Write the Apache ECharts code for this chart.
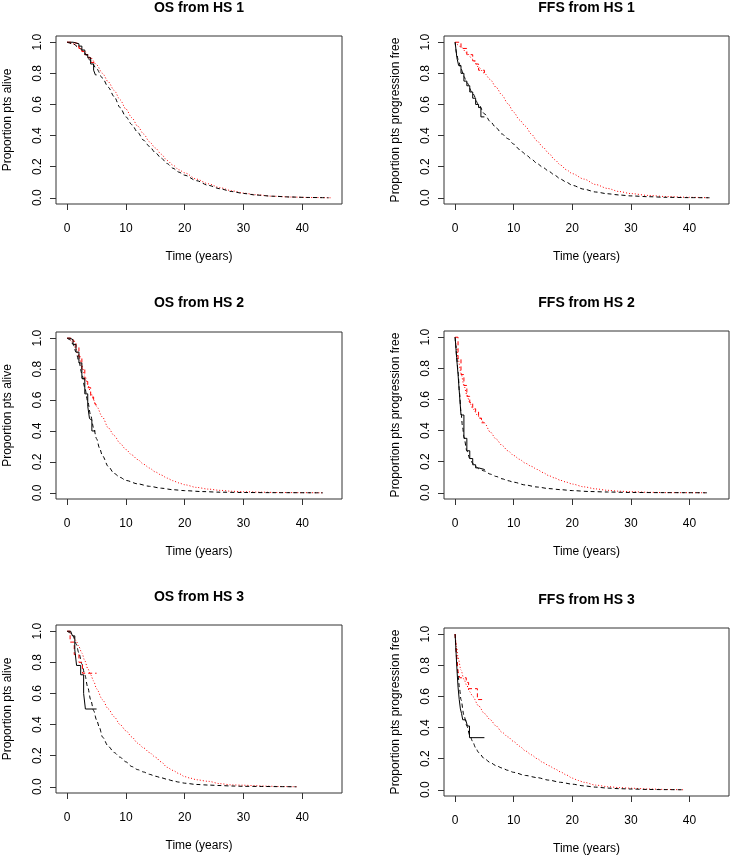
<!DOCTYPE html>
<html>
<head>
<meta charset="utf-8">
<script src="https://cdn.jsdelivr.net/npm/echarts@6/dist/echarts.min.js"></script>
<style>html,body{margin:0;padding:0;background:#fff}#c{width:733px;height:856px}</style>
</head>
<body>
<div id="c"></div>
<script>
// ---- tick labels ----
const xTicks = [0, 10, 20, 30, 40];
const yTicks = [0, 0.2, 0.4, 0.6, 0.8, 1.0];
const panelTitles = ['OS from HS 1', 'FFS from HS 1', 'OS from HS 2', 'FFS from HS 2', 'OS from HS 3', 'FFS from HS 3'];
const yNames = ['Proportion pts alive', 'Proportion pts progression free', 'Proportion pts alive', 'Proportion pts progression free', 'Proportion pts alive', 'Proportion pts progression free'];
const xName = 'Time (years)';

// ---- OS from HS 1 ----
const os1BlackObs = [[0,1],[0.5,1],[1,0.995],[1.5,0.99],[2,0.975],[2.5,0.95],[3,0.92],[3.5,0.9],[4,0.86],[4.5,0.82],[4.8,0.79],[5,0.79]];
const os1RedObs = [[0,1],[1,0.99],[2,0.96],[2.5,0.94],[3,0.92],[3.5,0.9],[4,0.87],[5,0.87]];
const os1BlackPred = [[0,1],[1,0.99],[2,0.965],[3,0.93],[4,0.88],[5,0.83],[6,0.77],[7,0.71],[8,0.65],[9,0.58],[10,0.52],[11,0.47],[12,0.42],[13,0.37],[14,0.33],[15,0.29],[16,0.255],[17,0.22],[18,0.19],[19,0.165],[20,0.145],[22,0.11],[24,0.08],[26,0.058],[28,0.04],[30,0.028],[32,0.018],[35,0.01],[38,0.005],[41,0.002],[44.5,0]];
const os1RedPred = [[0,1],[1,0.99],[2,0.97],[3,0.94],[4,0.9],[5,0.855],[6,0.8],[7,0.745],[8,0.69],[9,0.63],[10,0.57],[11,0.515],[12,0.46],[13,0.41],[14,0.36],[15,0.32],[16,0.28],[17,0.24],[18,0.21],[19,0.18],[20,0.16],[22,0.12],[24,0.09],[26,0.065],[28,0.045],[30,0.03],[32,0.02],[35,0.01],[38,0.005],[41,0.002],[44.8,0]];

// ---- FFS from HS 1 ----
const ffs1BlackObs = [[0,1],[0.3,0.9],[0.6,0.85],[1,0.8],[1.5,0.75],[2,0.72],[2.5,0.68],[3,0.64],[3.5,0.6],[4,0.58],[4.4,0.52],[5,0.52]];
const ffs1RedObs = [[0,1],[1,0.96],[2,0.92],[3,0.88],[3.5,0.86],[4,0.82],[5,0.8]];
const ffs1BlackPred = [[0,1],[0.25,0.93],[0.5,0.89],[1,0.83],[1.5,0.78],[2,0.74],[3,0.67],[4,0.6],[5,0.54],[6,0.49],[7,0.45],[8,0.41],[9,0.38],[10,0.345],[11,0.31],[12,0.28],[13,0.25],[14,0.22],[15,0.195],[16,0.17],[17,0.145],[18,0.12],[19,0.1],[20,0.08],[22,0.055],[24,0.037],[26,0.026],[28,0.018],[30,0.012],[33,0.007],[36,0.003],[40,0.001],[43.5,0]];
const ffs1RedPred = [[0,1],[1,0.97],[2,0.93],[3,0.89],[4,0.84],[5,0.8],[6,0.76],[7,0.71],[8,0.66],[9,0.605],[10,0.55],[11,0.5],[12,0.46],[13,0.41],[14,0.365],[15,0.325],[16,0.285],[17,0.245],[18,0.21],[19,0.18],[20,0.155],[22,0.12],[24,0.085],[26,0.06],[28,0.04],[30,0.027],[33,0.015],[36,0.008],[40,0.003],[43.5,0]];

// ---- OS from HS 2 ----
const os2BlackObs = [[0,1],[0.5,0.99],[1,0.96],[1.5,0.91],[2,0.84],[2.5,0.74],[3,0.64],[3.5,0.56],[3.8,0.48],[4,0.47],[4.2,0.4],[4.8,0.4]];
const os2RedObs = [[0,1],[1,0.98],[1.5,0.94],[2,0.88],[2.5,0.8],[3,0.72],[3.5,0.68],[4,0.62],[4.5,0.6],[4.8,0.57],[5,0.57]];
const os2BlackPred = [[0,1],[0.5,0.99],[1,0.96],[1.5,0.91],[2,0.85],[2.5,0.77],[3,0.68],[3.5,0.59],[4,0.5],[4.5,0.42],[5,0.35],[5.5,0.29],[6,0.24],[7,0.17],[8,0.125],[9,0.1],[10,0.08],[12,0.058],[14,0.042],[16,0.03],[18,0.02],[20,0.014],[23,0.008],[26,0.004],[30,0.002],[35,0.001],[43.5,0]];
const os2RedPred = [[0,1],[0.5,0.99],[1,0.97],[1.5,0.93],[2,0.88],[2.5,0.82],[3,0.76],[3.5,0.7],[4,0.65],[4.5,0.6],[5,0.56],[6,0.49],[7,0.42],[8,0.37],[9,0.32],[10,0.28],[11,0.245],[12,0.215],[13,0.185],[14,0.16],[15,0.135],[16,0.115],[17,0.095],[18,0.078],[19,0.064],[20,0.052],[22,0.035],[24,0.024],[26,0.016],[28,0.01],[30,0.007],[33,0.004],[36,0.002],[40,0.001],[43.5,0]];

// ---- FFS from HS 2 ----
const ffs2BlackObs = [[0,1],[0.25,0.87],[0.5,0.76],[0.75,0.63],[1,0.5],[1.5,0.35],[2,0.27],[2.5,0.22],[3,0.18],[3.5,0.16],[4,0.15],[5,0.145]];
const ffs2RedObs = [[0,1],[0.5,0.86],[1,0.76],[1.5,0.69],[2,0.62],[2.5,0.58],[3,0.54],[3.5,0.52],[4,0.48],[4.5,0.45],[5,0.45]];
const ffs2BlackPred = [[0,1],[0.1,0.95],[0.25,0.88],[0.5,0.78],[0.75,0.64],[1,0.52],[1.25,0.43],[1.5,0.36],[2,0.27],[2.5,0.22],[3,0.19],[3.5,0.17],[4,0.155],[5,0.14],[6,0.12],[7,0.105],[8,0.09],[9,0.078],[10,0.068],[12,0.05],[14,0.037],[16,0.027],[18,0.02],[20,0.014],[23,0.008],[26,0.005],[30,0.002],[35,0.001],[43,0]];
const ffs2RedPred = [[0,1],[0.25,0.93],[0.5,0.86],[1,0.77],[1.5,0.69],[2,0.63],[2.5,0.58],[3,0.54],[4,0.49],[5,0.45],[6,0.39],[7,0.345],[8,0.305],[9,0.27],[10,0.24],[11,0.215],[12,0.19],[13,0.17],[14,0.15],[15,0.13],[16,0.11],[17,0.095],[18,0.08],[19,0.068],[20,0.056],[22,0.038],[24,0.025],[26,0.016],[28,0.01],[30,0.007],[33,0.003],[36,0.001],[43,0]];

// ---- OS from HS 3 ----
const os3BlackObs = [[0,1],[0.6,1],[0.9,0.97],[1.3,0.88],[1.6,0.78],[2.3,0.72],[2.8,0.6],[3.1,0.5],[5,0.5]];
const os3RedObs = [[0,1],[0.5,0.93],[1.2,0.85],[2,0.8],[2.6,0.73],[5,0.73]];
const os3BlackPred = [[0,1],[0.5,0.99],[1,0.97],[1.5,0.92],[2,0.86],[2.5,0.79],[3,0.72],[3.5,0.64],[4,0.56],[4.5,0.49],[5,0.43],[5.5,0.38],[6,0.32],[7,0.26],[8,0.22],[9,0.19],[10,0.16],[11,0.13],[12,0.11],[13,0.095],[14,0.08],[15,0.068],[16,0.058],[17,0.048],[18,0.038],[19,0.03],[20,0.023],[22,0.015],[24,0.011],[26,0.008],[28,0.005],[30,0.003],[33,0.002],[36,0.001],[39,0]];
const os3RedPred = [[0,1],[0.5,0.99],[1,0.97],[1.5,0.94],[2,0.9],[2.5,0.86],[3,0.81],[3.5,0.76],[4,0.72],[4.5,0.68],[5,0.63],[6,0.56],[7,0.5],[8,0.45],[9,0.4],[10,0.36],[11,0.32],[12,0.28],[13,0.25],[14,0.22],[15,0.19],[16,0.16],[17,0.125],[18,0.105],[19,0.085],[20,0.065],[21,0.055],[22,0.045],[24,0.035],[26,0.02],[28,0.012],[30,0.01],[32,0.007],[34,0.004],[36,0.002],[39,0]];

// ---- FFS from HS 3 ----
const ffs3BlackObs = [[0,1],[0.1,0.93],[0.2,0.85],[0.35,0.75],[0.5,0.66],[0.7,0.58],[0.9,0.52],[1.1,0.49],[1.3,0.45],[1.8,0.44],[2.1,0.41],[2.45,0.335],[5,0.335]];
const ffs3RedObs = [[0,1],[0.15,0.92],[0.3,0.84],[0.5,0.76],[0.8,0.72],[1.9,0.69],[2.3,0.65],[3.8,0.58],[5,0.58]];
const ffs3BlackPred = [[0,1],[0.1,0.93],[0.25,0.85],[0.5,0.74],[0.75,0.65],[1,0.58],[1.5,0.48],[2,0.41],[2.5,0.35],[3,0.31],[3.5,0.27],[4,0.24],[5,0.2],[6,0.175],[7,0.155],[8,0.14],[9,0.125],[10,0.112],[12,0.092],[14,0.078],[16,0.062],[18,0.048],[20,0.036],[22,0.025],[24,0.017],[26,0.011],[28,0.007],[30,0.005],[33,0.002],[36,0.001],[39,0]];
const ffs3RedPred = [[0,1],[0.25,0.92],[0.5,0.85],[1,0.77],[1.5,0.71],[2,0.67],[2.5,0.63],[3,0.6],[4,0.54],[5,0.49],[6,0.45],[7,0.41],[8,0.37],[9,0.34],[10,0.31],[11,0.28],[12,0.25],[13,0.225],[14,0.2],[15,0.175],[16,0.155],[17,0.135],[18,0.115],[19,0.095],[20,0.075],[21,0.06],[22,0.048],[24,0.03],[26,0.02],[28,0.014],[30,0.01],[33,0.005],[36,0.002],[39,0]];

const panelData = [
  [os1BlackObs, os1RedObs, os1BlackPred, os1RedPred],
  [ffs1BlackObs, ffs1RedObs, ffs1BlackPred, ffs1RedPred],
  [os2BlackObs, os2RedObs, os2BlackPred, os2RedPred],
  [ffs2BlackObs, ffs2RedObs, ffs2BlackPred, ffs2RedPred],
  [os3BlackObs, os3RedObs, os3BlackPred, os3RedPred],
  [ffs3BlackObs, ffs3RedObs, ffs3BlackPred, ffs3RedPred]
];

// ---- layout (pixels) ----
const boxes = [
  [56, 36, 286, 168], [444, 36, 285, 168],
  [56, 332, 286, 167], [444, 331, 285, 168],
  [56, 625, 286, 168], [444, 628, 285, 168]
];
const titleY = [1, 1, 296, 296, 590, 593];

const FONT = 'Liberation Sans, Arial, sans-serif';
const grids = [], xAxes = [], yAxes = [], titles = [], series = [];
boxes.forEach((b, i) => {
  grids.push({ left: b[0], top: b[1], width: b[2], height: b[3], show: true, borderColor: '#333', borderWidth: 1, backgroundColor: 'transparent', containLabel: false });
  titles.push({ text: panelTitles[i], left: b[0] + b[2] / 2, top: titleY[i], textAlign: 'center', padding: 0,
    textStyle: { fontFamily: FONT, fontSize: 14, fontWeight: 'bold', color: '#000' } });
  xAxes.push({ type: 'value', gridIndex: i, position: 'bottom', min: -1.9, max: 46.75, name: xName, nameLocation: 'middle', nameGap: 47,
    nameTextStyle: { fontFamily: FONT, fontSize: 12, color: '#000' },
    axisLine: { show: false, onZero: false }, splitLine: { show: false },
    axisTick: { show: true, inside: false, length: 6, customValues: xTicks, lineStyle: { color: '#333' } },
    axisLabel: { customValues: xTicks, margin: 19, fontFamily: FONT, fontSize: 12, color: '#000' } });
  yAxes.push({ type: 'value', gridIndex: i, position: 'left', min: -0.04, max: 1.04, name: yNames[i], nameLocation: 'middle', nameGap: 42,
    nameTextStyle: { fontFamily: FONT, fontSize: 12, color: '#000' },
    axisLine: { show: false, onZero: false }, splitLine: { show: false },
    axisTick: { show: true, inside: false, length: 6, customValues: yTicks, lineStyle: { color: '#333' } },
    axisLabel: { customValues: yTicks, rotate: 90, align: 'center', verticalAlign: 'bottom', margin: 12,
      fontFamily: FONT, fontSize: 12, color: '#000', formatter: v => v.toFixed(1) } });
  const d = panelData[i];
  const common = { type: 'line', xAxisIndex: i, yAxisIndex: i, showSymbol: false, symbol: 'none', silent: true, animation: false };
  series.push(Object.assign({}, common, { data: d[3], smooth: 0.3, smoothMonotone: 'x', lineStyle: { color: '#ff0000', width: 1, type: [1, 2] } }));
  series.push(Object.assign({}, common, { data: d[2], smooth: 0.3, smoothMonotone: 'x', lineStyle: { color: '#000', width: 1, type: [4, 3] } }));
  series.push(Object.assign({}, common, { data: d[1], step: 'end', lineStyle: { color: '#ff0000', width: 1, type: [4, 3] } }));
  series.push(Object.assign({}, common, { data: d[0], step: 'end', lineStyle: { color: '#000', width: 1, type: 'solid' } }));
});

const chart = echarts.init(document.getElementById('c'), null, { renderer: 'canvas' });
chart.setOption({
  backgroundColor: '#fff',
  animation: false,
  title: titles,
  grid: grids,
  xAxis: xAxes,
  yAxis: yAxes,
  series: series
});
</script>
</body>
</html>
